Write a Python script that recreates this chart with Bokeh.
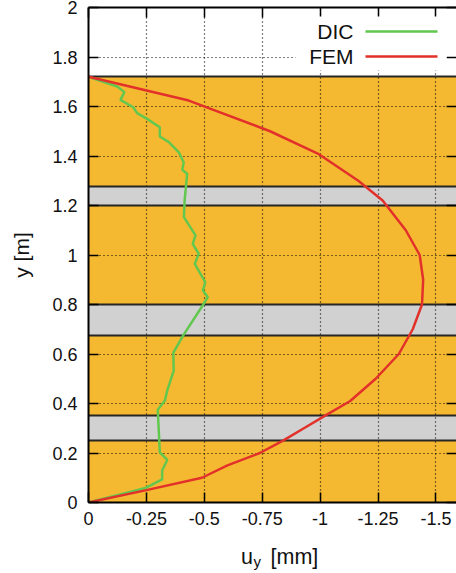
from bokeh.plotting import figure
from bokeh.layouts import column
from bokeh.models import (Range1d, LinearAxis, FixedTicker, Grid, Label,
                          BoxAnnotation)
from bokeh.embed import file_html
from bokeh.resources import INLINE

# Vertical displacement u_y [mm] over the height y [m]
dic_uy = [0.0, -0.247, -0.318, -0.318, -0.34, -0.308, -0.299, -0.33, -0.34,
          -0.368, -0.366, -0.409, -0.495, -0.515, -0.494, -0.504, -0.459,
          -0.476, -0.45, -0.462, -0.412, -0.415, -0.426, -0.405, -0.411,
          -0.39, -0.347, -0.308, -0.308, -0.253, -0.21, -0.193, -0.138,
          -0.155, -0.124, 0.0]
dic_y = [0.0, 0.059, 0.093, 0.129, 0.172, 0.203, 0.375, 0.412, 0.452,
         0.533, 0.605, 0.675, 0.799, 0.83, 0.857, 0.89, 0.964,
         1.005, 1.045, 1.079, 1.153, 1.22, 1.328, 1.344, 1.375,
         1.415, 1.456, 1.479, 1.516, 1.55, 1.573, 1.597, 1.627,
         1.658, 1.681, 1.72]

fem_uy = [0.0, -0.25, -0.49, -0.60, -0.74, -0.84, -0.93, -1.02, -1.13, -1.24,
          -1.34, -1.40, -1.44, -1.445, -1.43, -1.37, -1.27, -1.165, -0.99,
          -0.784, -0.433, 0.0]
fem_y = [0.0, 0.05, 0.10, 0.15, 0.20, 0.25, 0.30, 0.35, 0.41, 0.50,
         0.60, 0.70, 0.80, 0.90, 1.00, 1.10, 1.22, 1.30, 1.41,
         1.50, 1.624, 1.72]

# Layer build-up: main layer and three interlayers
layer_bottom = 0.0
layer_top = 1.72
inter_bottom = [0.25, 0.675, 1.2]
inter_top = [0.35, 0.8, 1.275]

x_ticks = [0, -0.25, -0.5, -0.75, -1, -1.25, -1.5]
x_tick_labels = ["0", "-0.25", "-0.5", "-0.75", "-1", "-1.25", "-1.5"]
y_ticks = [0, 0.2, 0.4, 0.6, 0.8, 1, 1.2, 1.4, 1.6, 1.8, 2]
y_tick_labels = ["0", "0.2", "0.4", "0.6", "0.8", "1", "1.2", "1.4", "1.6",
                 "1.8", "2"]

FONT = "Liberation Sans"
TEXT = "#111111"
ORANGE = "#F5B931"
GREY = "#D1D1D1"
GREEN = "#62C74F"
RED = "#E2312A"
EDGE = "#262626"

W = 456
PLOT_H = 545
TITLE_H = 28
LEFT, TOP, BOTTOM = 88, 7, 43
PX_PER_MM = 231.6
x_end = -(W - LEFT) / PX_PER_MM

p = figure(width=W, height=PLOT_H, x_range=Range1d(0, x_end),
           y_range=Range1d(0, 2), x_axis_type=None, y_axis_type=None,
           output_backend="svg", toolbar_location=None,
           min_border_left=LEFT, min_border_right=0, min_border_top=TOP,
           min_border_bottom=BOTTOM)
p.outline_line_color = None
p.background_fill_color = "white"
p.border_fill_color = "white"


def make_axis(ticks, labels, show_labels, line=True):
    ax = LinearAxis(ticker=FixedTicker(ticks=ticks))
    ax.major_tick_in = 10
    ax.major_tick_out = 0
    ax.minor_tick_in = 0
    ax.minor_tick_out = 0
    ax.major_tick_line_width = 1.5
    ax.major_tick_line_color = "black"
    ax.axis_line_width = 2
    ax.axis_line_color = "black" if line else None
    if show_labels:
        ax.major_label_overrides = dict(zip(ticks, labels))
        ax.major_label_text_font = FONT
        ax.major_label_text_font_size = "18px"
        ax.major_label_text_color = TEXT
    else:
        ax.major_label_overrides = {t: "" for t in ticks}
        ax.major_label_text_font_size = "0px"
        ax.major_label_standoff = 0
    return ax


xb = make_axis(x_ticks, x_tick_labels, True)
xb.major_label_standoff = 9
yl = make_axis(y_ticks, y_tick_labels, True)
yl.major_label_standoff = 11
yl.axis_label = "y [m]"
yl.axis_label_text_font = FONT
yl.axis_label_text_font_size = "21px"
yl.axis_label_text_font_style = "normal"
yl.axis_label_text_color = TEXT
yl.axis_label_standoff = 16
xt = make_axis(x_ticks, x_tick_labels, False)
yr = make_axis(y_ticks, y_tick_labels, False, line=False)
p.add_layout(xb, "below")
p.add_layout(yl, "left")
p.add_layout(xt, "above")
p.add_layout(yr, "right")

for dim, ticks in ((0, x_ticks), (1, y_ticks)):
    p.add_layout(Grid(dimension=dim, ticker=FixedTicker(ticks=ticks),
                      grid_line_color="black", grid_line_dash="1 3",
                      grid_line_width=1.2))

# layers
p.hstrip(y0=[layer_bottom], y1=[layer_top], fill_color=ORANGE,
         line_color=None, level="image")
p.hstrip(y0=inter_bottom, y1=inter_top, fill_color=GREY,
         line_color=None, level="image")
p.hspan(y=[layer_top] + inter_bottom + inter_top, line_color=EDGE,
        line_width=2)

# profiles
p.line(dic_uy, dic_y, line_color=GREEN, line_width=2.5)
p.line(fem_uy, fem_y, line_color=RED, line_width=2.5)

# legend (text right-aligned, sample line to the right)
p.add_layout(BoxAnnotation(left=207, right=358, bottom=432, top=486,
                           left_units="screen", right_units="screen",
                           bottom_units="screen", top_units="screen",
                           fill_color="white", fill_alpha=1.0,
                           line_color=None))
for name, color, ys in (("DIC", GREEN, 471), ("FEM", RED, 446)):
    p.add_layout(Label(x=265, y=ys, x_units="screen", y_units="screen",
                       text=name, text_align="right", text_baseline="middle",
                       text_font=FONT, text_font_size="21px",
                       text_color=TEXT))
    p.add_layout(BoxAnnotation(left=277, right=349, bottom=ys - 1.2,
                               top=ys + 1.2, left_units="screen",
                               right_units="screen", bottom_units="screen",
                               top_units="screen", fill_color=color,
                               fill_alpha=1.0, line_color=None))

# x-axis title strip with subscript, frame aligned with the plot frame
q = figure(width=W, height=TITLE_H, x_axis_type=None, y_axis_type=None,
           output_backend="svg", toolbar_location=None,
           min_border_left=LEFT, min_border_right=0, min_border_top=0,
           min_border_bottom=0,
           x_range=Range1d(0, W - LEFT), y_range=Range1d(0, TITLE_H))
q.outline_line_color = None
q.background_fill_color = "white"
q.border_fill_color = "white"
for txt, xs, ys, size in (("u", 152.5, 17, "21.5px"), ("y", 165, 12, "15px"),
                          ("[mm]", 182, 17, "21.5px")):
    q.add_layout(Label(x=xs, y=ys, x_units="screen", y_units="screen",
                       text=txt, text_align="left",
                       text_baseline="alphabetic", text_font=FONT,
                       text_font_size=size, text_color=TEXT))

layout = column(p, q, spacing=0)
open("out.html", "w").write(file_html(layout, INLINE))
